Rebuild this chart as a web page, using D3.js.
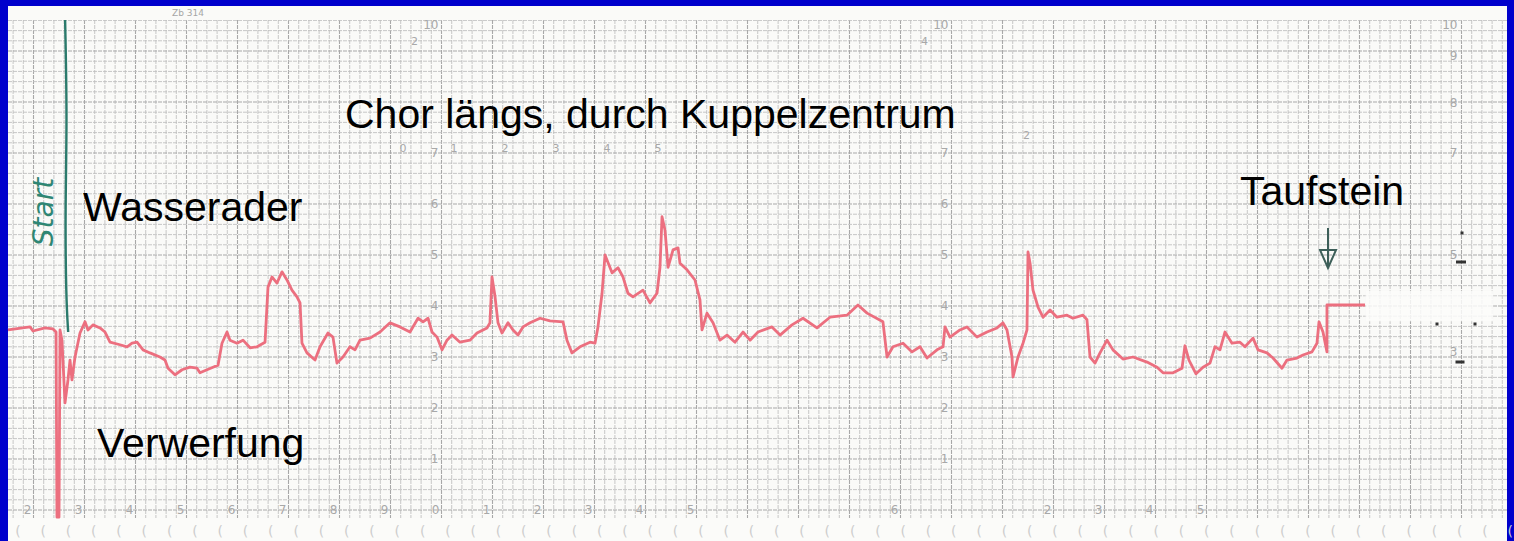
<!DOCTYPE html>
<html>
<head>
<meta charset="utf-8">
<script src="https://cdn.jsdelivr.net/npm/d3@7"></script>
<style>
  html, body { margin: 0; padding: 0; background: #0000cc; }
  svg { display: block; }
</style>
</head>
<body>
<svg id="chart"></svg>
<script>
'use strict';

// recorder trace: x in minor grid divisions, value in scale units
const traceX = [
  2.50, 4.66, 4.95, 6.13, 6.91, 7.21, 7.30, 7.50, 7.60, 7.79, 8.09, 8.38, 8.58, 8.77, 9.07, 9.56,
  10.05, 10.34, 10.83, 11.52, 12.01, 12.50, 13.48, 14.17, 14.66, 15.15, 15.74, 16.42, 17.40, 17.89,
  18.19, 18.87, 19.56, 20.34, 21.03, 21.32, 22.01, 22.60, 23.09, 23.48, 23.97, 24.26, 24.95, 25.54,
  26.23, 26.91, 27.70, 27.99, 28.38, 28.87, 29.36, 29.85, 30.34, 30.83, 31.13, 31.32, 31.81, 32.60,
  33.09, 33.87, 34.36, 34.75, 35.34, 36.03, 36.52, 37.01, 37.99, 38.97, 39.95, 40.93, 41.91, 42.70,
  43.19, 43.68, 44.07, 44.56, 45.05, 45.54, 46.03, 46.81, 47.79, 48.48, 49.46, 49.75, 49.95, 50.25,
  50.54, 50.93, 51.52, 52.01, 52.50, 52.99, 53.68, 54.66, 55.64, 56.91, 57.30, 57.79, 58.58, 59.56,
  60.05, 60.34, 60.74, 61.03, 61.72, 62.30, 62.79, 63.28, 63.77, 64.75, 65.44, 66.13, 66.42, 66.62,
  66.91, 67.21, 67.70, 68.19, 68.38, 69.07, 69.85, 70.34, 70.54, 71.03, 71.62, 72.30, 72.99, 73.77,
  74.56, 75.25, 76.03, 77.40, 78.19, 79.36, 80.44, 81.81, 83.09, 84.75, 85.83, 86.72, 88.28, 88.68,
  89.26, 90.25, 91.13, 91.91, 92.60, 93.58, 94.17, 94.36, 94.85, 95.83, 96.52, 97.50, 98.48, 99.46,
  100.05, 100.44, 100.93, 101.03, 101.52, 102.01, 102.40, 102.50, 102.70, 102.99, 103.48, 103.97,
  104.66, 105.34, 106.32, 106.91, 107.89, 108.28, 108.58, 109.07, 109.56, 110.25, 110.83, 111.81,
  112.79, 114.17, 115.15, 115.74, 116.72, 117.60, 117.89, 118.28, 118.97, 119.66, 120.34, 120.83,
  121.32, 121.81, 122.50, 123.28, 123.77, 124.56, 125.05, 125.93, 126.52, 127.40, 127.89, 128.87,
  129.46, 130.34, 130.83, 131.03, 131.42, 131.81, 131.81, 135.54
];
const traceV = [
  3.53, 3.59, 3.51, 3.57, 3.55, 3.49, -0.14, -0.14, 3.53, 3.33, 2.10, 2.55, 2.94, 2.55, 3.00, 3.47,
  3.69, 3.53, 3.63, 3.57, 3.49, 3.29, 3.24, 3.20, 3.27, 3.29, 3.14, 3.08, 3.00, 2.94,
  2.78, 2.65, 2.75, 2.80, 2.78, 2.69, 2.75, 2.80, 2.84, 3.27, 3.49, 3.33, 3.27, 3.33,
  3.18, 3.20, 3.29, 4.37, 4.57, 4.45, 4.67, 4.51, 4.31, 4.18, 4.06, 3.27, 3.08, 2.94,
  3.20, 3.47, 3.39, 2.88, 3.00, 3.20, 3.14, 3.33, 3.37, 3.49, 3.67, 3.59, 3.49, 3.76,
  3.69, 3.76, 3.49, 3.39, 3.14, 3.33, 3.43, 3.29, 3.33, 3.47, 3.57, 3.67, 4.57, 4.18,
  3.67, 3.47, 3.67, 3.53, 3.43, 3.59, 3.67, 3.76, 3.71, 3.69, 3.33, 3.08, 3.20, 3.29,
  3.27, 3.59, 4.25, 5.00, 4.65, 4.75, 4.57, 4.25, 4.18, 4.31, 4.06, 4.25, 4.76, 5.75,
  5.49, 4.76, 5.10, 5.14, 4.84, 4.71, 4.51, 4.12, 3.53, 3.86, 3.67, 3.33, 3.43, 3.29,
  3.49, 3.33, 3.49, 3.59, 3.43, 3.63, 3.76, 3.57, 3.78, 3.82, 4.02, 3.86, 3.69, 3.00,
  3.20, 3.27, 3.10, 3.20, 2.98, 3.14, 3.20, 3.59, 3.39, 3.53, 3.59, 3.39, 3.49, 3.57,
  3.67, 3.53, 3.00, 2.61, 3.00, 3.27, 3.53, 5.06, 4.84, 4.31, 3.98, 3.78,
  3.92, 3.78, 3.82, 3.76, 3.82, 3.73, 3.00, 2.88, 3.08, 3.33, 3.14, 2.96,
  3.00, 2.90, 2.80, 2.69, 2.69, 2.78, 3.22, 2.94, 2.67, 2.80, 2.88, 3.20,
  3.14, 3.49, 3.27, 3.29, 3.20, 3.37, 3.14, 3.08, 2.98, 2.78, 2.94, 2.98,
  3.04, 3.10, 3.27, 3.69, 3.49, 3.10, 4.02, 4.02
];

// printed numbering on the recorder paper
const bottomTickPos = [5, 10, 15, 20, 25, 30, 35, 40, 45, 50, 55, 60, 65, 70, 90, 105, 110, 115, 120];
const bottomTickText = ['2', '3', '4', '5', '6', '7', '8', '9', '0', '1', '2', '3', '4', '5', '6', '2', '3', '4', '5'];
const columnTickValues = [1, 2, 3, 4, 5, 6, 7, 9.52];
const columnTickText = ['1', '2', '3', '4', '5', '6', '7', '10'];
const columnPos = [45, 95];
const edgeTickValues = [9.52, 8.9, 7.98, 7.0, 5.0, 3.1];
const edgeTickText = ['10', '9', '8', '7', '5', '3'];
const patchTickPos = [40, 45, 50, 55, 60, 65];
const patchTickText = ['0', '1', '2', '3', '4', '5'];
const stubTickPos = [42, 92, 102];
const stubTickValues = [9.2, 9.2, 7.35];
const stubTickText = ['2', '4', '2'];

const W = 1514, H = 541;
const paper = { left: 8, right: 1507, top: 6, gridTop: 20, gridBottom: 518 };

const x = d3.scaleLinear().domain([2.5, 149.5]).range([8, 1507.4]);
const y = d3.scaleLinear().domain([-0.157, 9.608]).range([paper.gridBottom, paper.gridTop]);

const svg = d3.select('#chart')
    .attr('width', W)
    .attr('height', H);

svg.append('rect')
    .attr('width', W)
    .attr('height', H)
    .style('fill', '#0000cc');

svg.append('rect')
    .attr('x', paper.left)
    .attr('y', paper.top)
    .attr('width', paper.right - paper.left)
    .attr('height', H - paper.top)
    .style('fill', '#fafaf8');

svg.append('defs').append('clipPath')
    .attr('id', 'grid-clip')
  .append('rect')
    .attr('x', paper.left)
    .attr('y', paper.gridTop)
    .attr('width', paper.right - paper.left)
    .attr('height', paper.gridBottom - paper.gridTop);

const grid = svg.append('g').attr('clip-path', 'url(#grid-clip)');

// vertical grid
grid.selectAll('.vline')
    .data(d3.range(3, 150))
  .enter().append('line')
    .attr('x1', d => x(d))
    .attr('x2', d => x(d))
    .attr('y1', paper.gridTop)
    .attr('y2', paper.gridBottom)
    .style('stroke', d => d % 5 === 0 ? '#a8a8a8' : '#bdbdbd')
    .style('stroke-width', d => d % 5 === 0 ? 1.1 : 0.85)
    .style('stroke-dasharray', '4,1');

// horizontal grid
grid.selectAll('.hline')
    .data(d3.range(0, 49).map(i => i * 0.2))
  .enter().append('line')
    .attr('x1', paper.left)
    .attr('x2', paper.right)
    .attr('y1', d => y(d))
    .attr('y2', d => y(d))
    .style('stroke', (d, i) => i % 5 === 0 ? '#a8a8a8' : '#bdbdbd')
    .style('stroke-width', (d, i) => i % 5 === 0 ? 1.1 : 0.85)
    .style('stroke-dasharray', '4,1');

// lighter pasted strip right of the trace end
svg.append('rect')
    .attr('x', x(135.6))
    .attr('y', y(4.3))
    .attr('width', x(148.1) - x(135.6))
    .attr('height', y(3.7) - y(4.3))
    .style('fill', '#fbfbfa')
    .style('opacity', 0.85);

// lower paper strip with perforation marks
svg.append('rect')
    .attr('x', paper.left)
    .attr('y', paper.gridBottom)
    .attr('width', paper.right - paper.left)
    .attr('height', H - paper.gridBottom)
    .style('fill', '#fbfbf9');

svg.selectAll('.perf')
    .data(d3.range(0, 60))
  .enter().append('text')
    .attr('x', d => x(3.2 + d * 2.48))
    .attr('y', 536)
    .style('font-family', 'DejaVu Sans')
    .style('font-size', 14)
    .style('fill', '#cdcdcd')
    .text('(');

svg.append('text')
    .attr('x', 172)
    .attr('y', 16)
    .style('font-family', 'DejaVu Sans')
    .style('font-size', 9)
    .style('fill', '#a6a6a6')
    .text('Zb 314');

const tickStyle = sel => sel
    .style('font-family', 'DejaVu Sans')
    .style('font-size', 12)
    .style('fill', '#a8a8a8');

svg.selectAll('.btick')
    .data(bottomTickPos)
  .enter().append('text')
    .attr('x', d => x(d) - 2)
    .attr('y', paper.gridBottom - 4)
    .attr('text-anchor', 'end')
    .call(tickStyle)
    .text((d, i) => bottomTickText[i]);

columnPos.forEach(c => {
  svg.selectAll(null)
      .data(columnTickValues)
    .enter().append('text')
      .attr('x', x(c) - 3)
      .attr('y', d => y(d))
      .attr('dy', '0.35em')
      .attr('text-anchor', 'end')
      .call(tickStyle)
      .text((d, i) => columnTickText[i]);
});

svg.selectAll('.etick')
    .data(edgeTickValues)
  .enter().append('text')
    .attr('x', x(145) - 4)
    .attr('y', d => y(d))
    .attr('dy', '0.35em')
    .attr('text-anchor', 'end')
    .call(tickStyle)
    .text((d, i) => edgeTickText[i]);

svg.selectAll('.ptick')
    .data(patchTickPos)
  .enter().append('text')
    .attr('x', d => x(d) + 9)
    .attr('y', y(7.02))
    .call(tickStyle)
    .style('font-size', 11)
    .text((d, i) => patchTickText[i]);

svg.selectAll('.stick')
    .data(stubTickPos)
  .enter().append('text')
    .attr('x', d => x(d))
    .attr('y', (d, i) => y(stubTickValues[i]))
    .attr('dy', '0.35em')
    .call(tickStyle)
    .style('font-size', 11)
    .text((d, i) => stubTickText[i]);

// start marker drawn in green ink
svg.append('path')
    .attr('d', d3.line().curve(d3.curveBasis)([
      [x(8.1), paper.gridTop], [x(8.3), 120], [x(8.1), 210], [x(8.2), 300], [x(8.4), 332]
    ]))
    .style('fill', 'none')
    .style('stroke', '#2b7a6c')
    .style('stroke-width', 2.4);

svg.append('text')
    .attr('transform', 'translate(53, 212) rotate(-90)')
    .attr('text-anchor', 'middle')
    .style('font-family', 'DejaVu Sans')
    .style('font-style', 'italic')
    .style('font-size', 28)
    .style('fill', '#2f8673')
    .text('Start');

// arrow at Taufstein
svg.append('line')
    .attr('x1', 1328).attr('x2', 1328)
    .attr('y1', 228).attr('y2', 266)
    .style('stroke', '#3d5f59')
    .style('stroke-width', 2);
svg.append('path')
    .attr('d', 'M1320,250 L1336,250 L1328,268 Z')
    .style('fill', 'none')
    .style('stroke', '#3d5f59')
    .style('stroke-width', 2);

// stray pen marks on the right edge
[[1461, 262, 10], [1460, 362, 9], [1462, 233, 3], [1437, 324, 3], [1475, 324, 3]].forEach(m => {
  svg.append('rect')
      .attr('x', m[0] - m[2] / 2)
      .attr('y', m[1] - 1.5)
      .attr('width', m[2])
      .attr('height', 3)
      .style('fill', '#333');
});

// the measured trace
const line = d3.line()
    .x(d => x(d[0]))
    .y(d => y(d[1]));

svg.append('path')
    .datum(traceX.map((d, i) => [d, traceV[i]]))
    .attr('d', line)
    .style('fill', 'none')
    .style('stroke', '#ec6f7f')
    .style('stroke-width', 2.8)
    .style('stroke-linejoin', 'round');

const label = (tx, ty, t) => svg.append('text')
    .attr('x', tx)
    .attr('y', ty)
    .style('font-family', 'Liberation Sans, Arial, sans-serif')
    .style('font-size', 41)
    .style('fill', '#000')
    .text(t);

label(345, 128, 'Chor längs, durch Kuppelzentrum');
label(83, 221, 'Wasserader');
label(97, 457, 'Verwerfung');
label(1240, 205, 'Taufstein');
</script>
</body>
</html>
